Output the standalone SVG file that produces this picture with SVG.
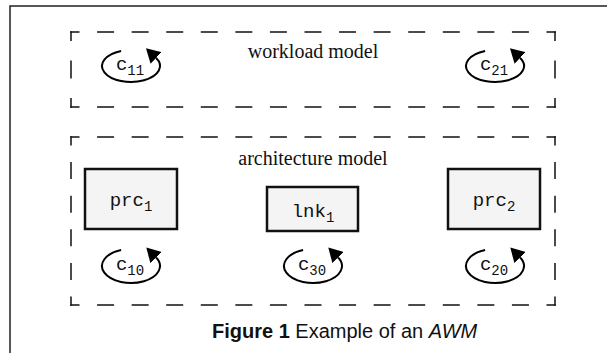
<svg xmlns="http://www.w3.org/2000/svg" width="607" height="353" viewBox="0 0 607 353">
  <style>
    .frame { fill: none; stroke: #222; stroke-width: 1.5; }
    /* dashed group outlines: each side starts and ends with a half dash so corners read as L shapes */
    .dash { fill: none; stroke: #111; stroke-width: 1.5; stroke-linecap: square; }
    .dh { stroke-dasharray: 15.5 19.071; stroke-dashoffset: 7.75; }
    .dv1 { stroke-dasharray: 16.5 21; stroke-dashoffset: 8.25; }
    .dv2 { stroke-dasharray: 15.5 18.1; stroke-dashoffset: 7.75; }
    .box { fill: #f4f4f4; stroke: #111; stroke-width: 2.5; }
    .loop { fill: none; stroke: #000; stroke-width: 2; marker-end: url(#head); }
    .title { font-family: "Liberation Serif", "Times New Roman", serif; font-size: 20px; fill: #111; text-anchor: middle; }
    .mono { font-family: "Liberation Mono", "Courier New", monospace; font-size: 19px; fill: #111; text-anchor: middle; }
    .sub { font-size: 14px; }
    .caption { font-family: "Liberation Sans", Arial, sans-serif; font-size: 20px; fill: #111; }
  </style>
  <defs>
    <marker id="head" markerUnits="userSpaceOnUse" markerWidth="16" markerHeight="16" refX="0" refY="8" orient="auto">
      <path d="M0,0 L14,8 L0,16 Z" fill="#000"/>
    </marker>
  </defs>

  <!-- outer frame -->
  <path class="frame" d="M10,353 V6 H607"/>

  <!-- group outlines -->
  <g id="workload">
    <path class="dash dh" d="M71,32 H555"/>
    <path class="dash dh" d="M71,107 H555"/>
    <path class="dash dv1" d="M71,32 V107"/>
    <path class="dash dv1" d="M555,32 V107"/>
    <text class="title" x="313" y="58">workload model</text>
  </g>
  <g id="architecture">
    <path class="dash dh" d="M71,137 H555"/>
    <path class="dash dh" d="M71,305 H555"/>
    <path class="dash dv2" d="M71,137 V305"/>
    <path class="dash dv2" d="M555,137 V305"/>
    <text class="title" x="313" y="165">architecture model</text>
  </g>

  <!-- resource nodes -->
  <g id="prc1">
    <rect class="box" x="85" y="169" width="92" height="60"/>
    <text class="mono" x="131" y="206">prc<tspan class="sub" dy="5">1</tspan></text>
  </g>
  <g id="lnk1">
    <rect class="box" x="267" y="187" width="91" height="44"/>
    <text class="mono" x="313" y="217">lnk<tspan class="sub" dy="5">1</tspan></text>
  </g>
  <g id="prc2">
    <rect class="box" x="448" y="169" width="92" height="60"/>
    <text class="mono" x="494" y="206">prc<tspan class="sub" dy="5">2</tspan></text>
  </g>

  <!-- self-loop components: arc from top-left round to top-right -->
  <g id="connectors">
    <path class="loop" d="M121.1,51 A29,16 0 1 0 156.1,58"/>
    <path class="loop" d="M485.1,51 A29,16 0 1 0 520.1,58"/>
    <path class="loop" d="M121.1,250 A29,17 0 1 0 156.1,257.5"/>
    <path class="loop" d="M303.1,250 A29,17 0 1 0 338.1,257.5"/>
    <path class="loop" d="M485.1,250 A29,17 0 1 0 520.1,257.5"/>
  </g>

  <g id="c11"><text class="mono" x="130" y="70">c<tspan class="sub" dy="5">11</tspan></text></g>
  <g id="c21"><text class="mono" x="494" y="70">c<tspan class="sub" dy="5">21</tspan></text></g>
  <g id="c10"><text class="mono" x="130" y="270">c<tspan class="sub" dy="5">10</tspan></text></g>
  <g id="c30"><text class="mono" x="312" y="270">c<tspan class="sub" dy="5">30</tspan></text></g>
  <g id="c20"><text class="mono" x="494" y="270">c<tspan class="sub" dy="5">20</tspan></text></g>

  <!-- caption -->
  <text class="caption" x="212" y="338"><tspan font-weight="bold">Figure 1</tspan> Example of an <tspan font-style="italic">AWM</tspan></text>
</svg>
